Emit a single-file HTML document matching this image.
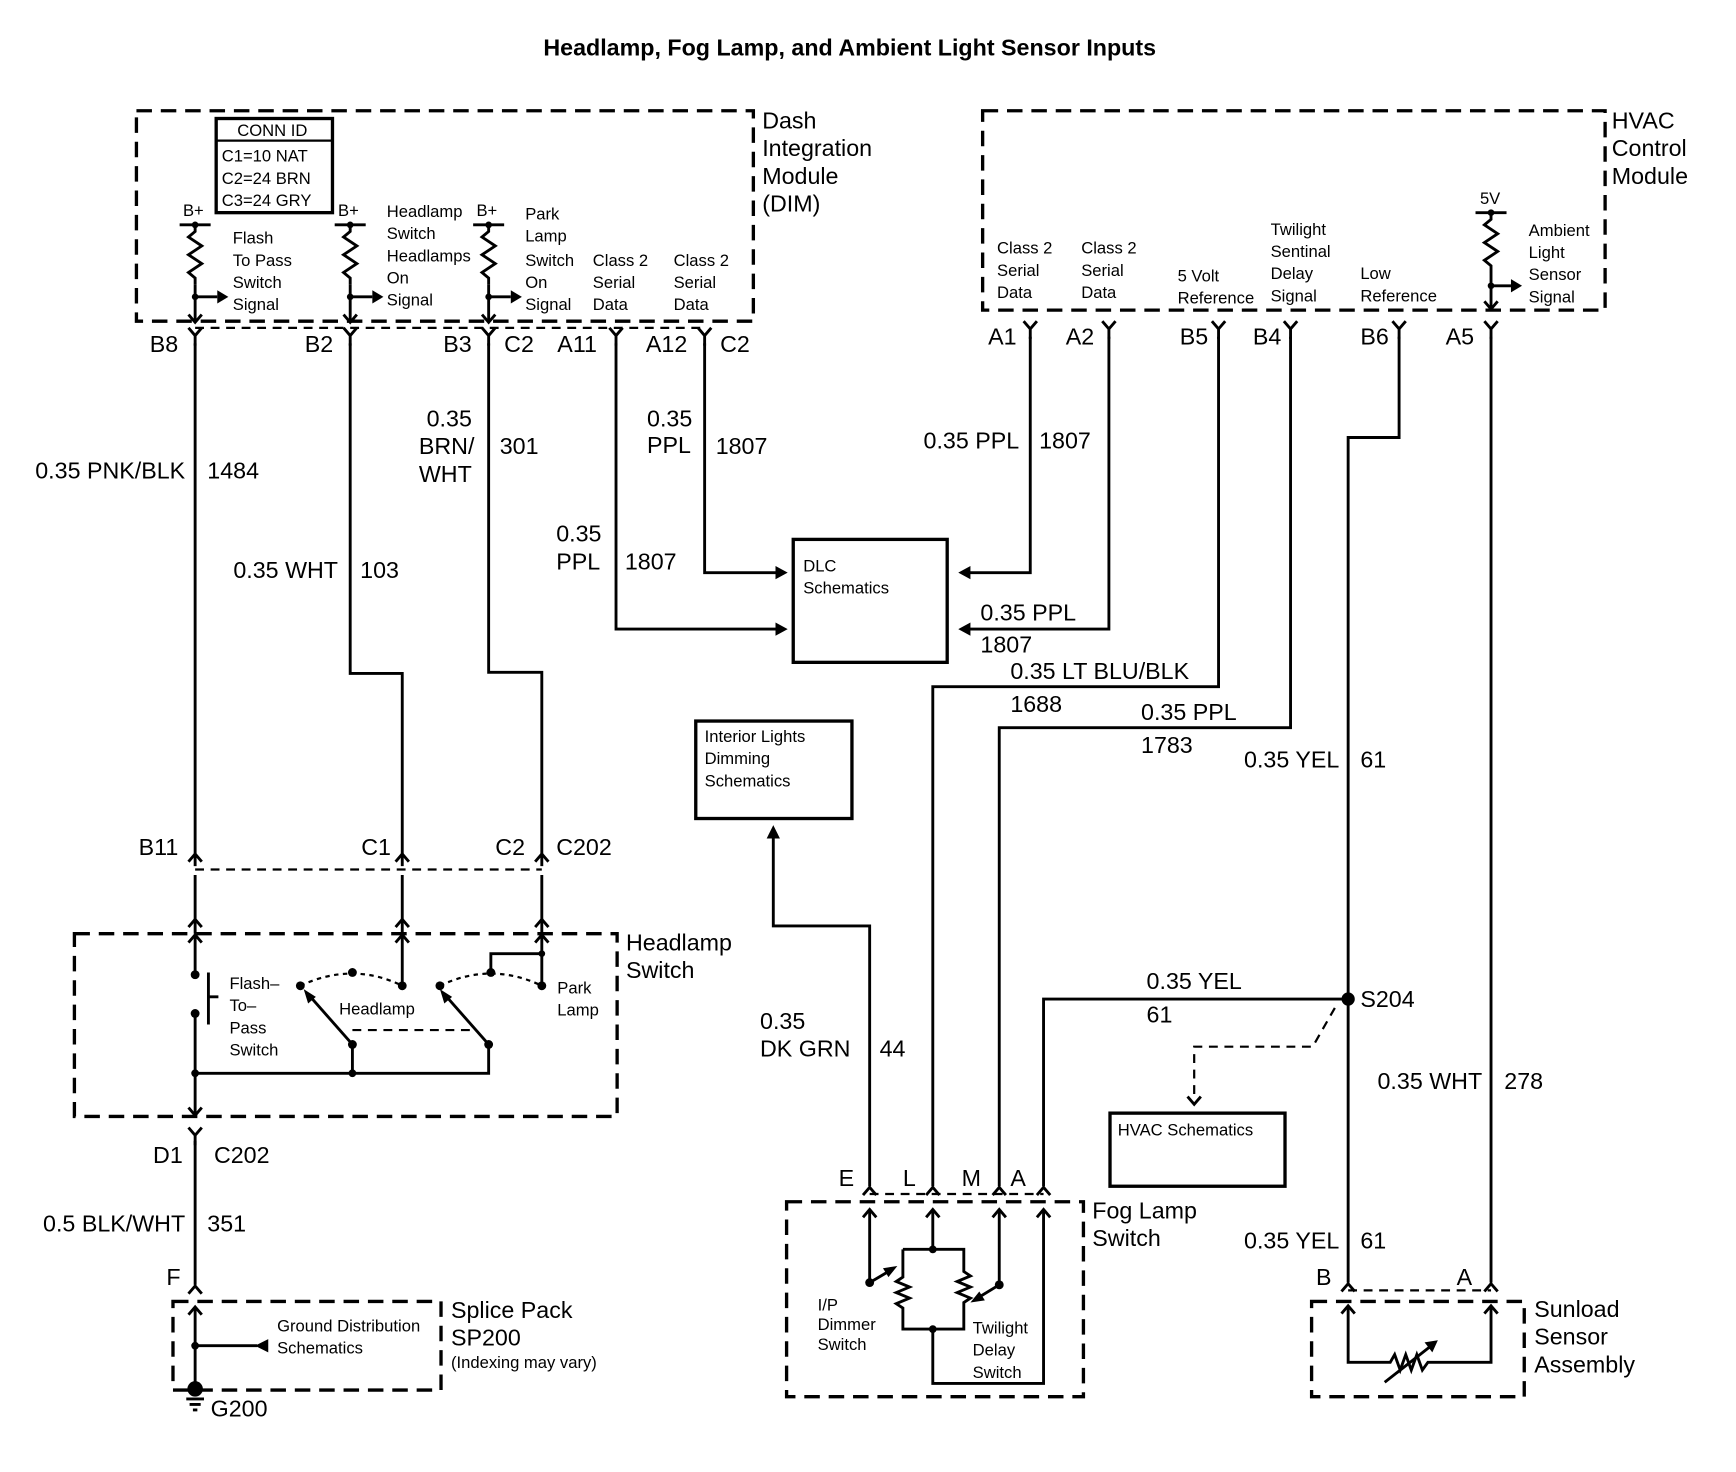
<!DOCTYPE html>
<html><head><meta charset="utf-8"><style>
html,body{margin:0;padding:0;background:#fff;}
svg{display:block;}
text{font-family:"Liberation Sans",Arial,sans-serif;fill:#000;}
.s{font-size:15px;}
.m{font-size:21px;}
.w{fill:none;stroke:#000;stroke-width:2.6;}
.d{fill:none;stroke:#000;stroke-width:3;stroke-dasharray:14 8;}
.dl{fill:none;stroke:#000;stroke-width:2;stroke-dasharray:8 6;}
.dt{fill:none;stroke:#000;stroke-width:2;stroke-dasharray:4 4;}
</style></head><body>
<svg width="1736" height="1472" viewBox="0 0 1567 1329" xmlns="http://www.w3.org/2000/svg">
<defs>
<path id="Y" d="M-6,-8 L0,-1 L6,-8 M0,-1 L0,8" class="w"/>
<path id="U" d="M-6,6 L0,-1 L6,6" class="w"/>
<path id="D" d="M-6,-6 L0,1 L6,-6" class="w"/>
<path id="zz" d="M0,0 l0,6 l-6,5 l12,8 l-12,8 l12,8 l-12,8 l6,5 l0,6" class="w"/>
</defs>
<text x="767" y="50" font-size="21" font-weight="bold" text-anchor="middle">Headlamp, Fog Lamp, and Ambient Light Sensor Inputs</text>

<!-- DIM -->
<rect x="123" y="100" width="557" height="190" class="d"/>
<text class="m" x="688" y="116">Dash</text><text class="m" x="688" y="141">Integration</text><text class="m" x="688" y="166">Module</text><text class="m" x="688" y="191">(DIM)</text>
<rect x="195" y="107" width="105" height="85" fill="none" stroke="#000" stroke-width="3"/>
<line x1="195" y1="127" x2="300" y2="127" stroke="#000" stroke-width="2"/>
<text class="s" x="214" y="123">CONN ID</text><text class="s" x="200" y="146">C1=10 NAT</text><text class="s" x="200" y="166">C2=24 BRN</text><text class="s" x="200" y="186">C3=24 GRY</text>
<g>
<text class="s" x="165" y="195">B+</text>
<line x1="162" y1="203" x2="190" y2="203" class="w"/><circle cx="176" cy="203" r="3"/>
<use href="#zz" x="176" y="203"/><line x1="176" y1="257" x2="176" y2="290" class="w"/>
<circle cx="176" cy="268" r="3"/><line x1="176" y1="268" x2="196" y2="268" class="w"/><path d="M196,262 L206,268 L196,274Z"/>
<use href="#D" x="176" y="290"/>
</g>
<g>
<text class="s" x="305" y="195">B+</text>
<line x1="302" y1="203" x2="330" y2="203" class="w"/><circle cx="316" cy="203" r="3"/>
<use href="#zz" x="316" y="203"/><line x1="316" y1="257" x2="316" y2="290" class="w"/>
<circle cx="316" cy="268" r="3"/><line x1="316" y1="268" x2="336" y2="268" class="w"/><path d="M336,262 L346,268 L336,274Z"/>
<use href="#D" x="316" y="290"/>
</g>
<g>
<text class="s" x="430" y="195">B+</text>
<line x1="427" y1="203" x2="455" y2="203" class="w"/><circle cx="441" cy="203" r="3"/>
<use href="#zz" x="441" y="203"/><line x1="441" y1="257" x2="441" y2="290" class="w"/>
<circle cx="441" cy="268" r="3"/><line x1="441" y1="268" x2="461" y2="268" class="w"/><path d="M461,262 L471,268 L461,274Z"/>
<use href="#D" x="441" y="290"/>
</g>
<text class="s" x="210" y="220">Flash</text><text class="s" x="210" y="240">To Pass</text><text class="s" x="210" y="260">Switch</text><text class="s" x="210" y="280">Signal</text>
<text class="s" x="349" y="196">Headlamp</text><text class="s" x="349" y="216">Switch</text><text class="s" x="349" y="236">Headlamps</text><text class="s" x="349" y="256">On</text><text class="s" x="349" y="276">Signal</text>
<text class="s" x="474" y="198">Park</text><text class="s" x="474" y="218">Lamp</text><text class="s" x="474" y="240">Switch</text><text class="s" x="474" y="260">On</text><text class="s" x="474" y="280">Signal</text>
<text class="s" x="535" y="240">Class 2</text><text class="s" x="535" y="260">Serial</text><text class="s" x="535" y="280">Data</text>
<text class="s" x="608" y="240">Class 2</text><text class="s" x="608" y="260">Serial</text><text class="s" x="608" y="280">Data</text>
<line x1="176" y1="296" x2="636" y2="296" class="dl"/>
<use href="#Y" x="176" y="304"/><use href="#Y" x="316" y="304"/><use href="#Y" x="441" y="304"/><use href="#Y" x="556" y="304"/><use href="#Y" x="636" y="304"/>
<text class="m" x="135" y="318">B8</text><text class="m" x="275" y="318">B2</text><text class="m" x="400" y="318">B3</text><text class="m" x="455" y="318">C2</text><text class="m" x="503" y="318">A11</text><text class="m" x="583" y="318">A12</text><text class="m" x="650" y="318">C2</text>

<!-- DIM wires -->
<path class="w" d="M176,310 V771"/>
<path class="w" d="M316,310 V608 H363 V771"/>
<path class="w" d="M441,310 V607 H489 V771"/>
<path class="w" d="M556,310 V568 H702"/><path d="M700,562 L711,568 L700,574Z"/>
<path class="w" d="M636,310 V517 H702"/><path d="M700,511 L711,517 L700,523Z"/>
<text class="m" x="167" y="432" text-anchor="end">0.35 PNK/BLK</text><text class="m" x="187" y="432">1484</text>
<text class="m" x="305" y="522" text-anchor="end">0.35 WHT</text><text class="m" x="325" y="522">103</text>
<text class="m" x="385" y="385">0.35</text><text class="m" x="378" y="410">BRN/</text><text class="m" x="378" y="435">WHT</text><text class="m" x="451" y="410">301</text>
<text class="m" x="584" y="385">0.35</text><text class="m" x="584" y="409">PPL</text><text class="m" x="646" y="410">1807</text>
<text class="m" x="502" y="489">0.35</text><text class="m" x="502" y="514">PPL</text><text class="m" x="564" y="514">1807</text>

<rect x="716" y="487" width="139" height="111" fill="none" stroke="#000" stroke-width="3"/>
<text class="s" x="725" y="516">DLC</text><text class="s" x="725" y="536">Schematics</text>

<!-- HVAC -->
<rect x="887" y="100" width="562" height="180" class="d"/>
<text class="m" x="1455" y="116">HVAC</text><text class="m" x="1455" y="141">Control</text><text class="m" x="1455" y="166">Module</text>
<text class="s" x="900" y="229">Class 2</text><text class="s" x="900" y="249">Serial</text><text class="s" x="900" y="269">Data</text>
<text class="s" x="976" y="229">Class 2</text><text class="s" x="976" y="249">Serial</text><text class="s" x="976" y="269">Data</text>
<text class="s" x="1063" y="254">5 Volt</text><text class="s" x="1063" y="274">Reference</text>
<text class="s" x="1147" y="212">Twilight</text><text class="s" x="1147" y="232">Sentinal</text><text class="s" x="1147" y="252">Delay</text><text class="s" x="1147" y="272">Signal</text>
<text class="s" x="1228" y="252">Low</text><text class="s" x="1228" y="272">Reference</text>
<text class="s" x="1336" y="184">5V</text>
<line x1="1332" y1="192" x2="1360" y2="192" class="w"/><circle cx="1346" cy="192" r="3"/>
<use href="#zz" x="1346" y="192"/><line x1="1346" y1="246" x2="1346" y2="278" class="w"/>
<circle cx="1346" cy="258" r="3"/><line x1="1346" y1="258" x2="1364" y2="258" class="w"/><path d="M1364,252 L1374,258 L1364,264Z"/>
<use href="#D" x="1346" y="278"/>
<text class="s" x="1380" y="213">Ambient</text><text class="s" x="1380" y="233">Light</text><text class="s" x="1380" y="253">Sensor</text><text class="s" x="1380" y="273">Signal</text>
<use href="#Y" x="930" y="298"/><use href="#Y" x="1001" y="298"/><use href="#Y" x="1100" y="298"/><use href="#Y" x="1165" y="298"/><use href="#Y" x="1263" y="298"/><use href="#Y" x="1346" y="298"/>
<text class="m" x="892" y="311">A1</text><text class="m" x="962" y="311">A2</text><text class="m" x="1065" y="311">B5</text><text class="m" x="1131" y="311">B4</text><text class="m" x="1228" y="311">B6</text><text class="m" x="1305" y="311">A5</text>

<path class="w" d="M930,304 V517 H874"/><path d="M876,511 L865,517 L876,523Z"/>
<path class="w" d="M1001,304 V568 H874"/><path d="M876,562 L865,568 L876,574Z"/>
<text class="m" x="920" y="405" text-anchor="end">0.35 PPL</text><text class="m" x="938" y="405">1807</text>
<text class="m" x="885" y="560">0.35 PPL</text><text class="m" x="885" y="589">1807</text>
<path class="w" d="M1100,304 V620 H842 V1071"/>
<path class="w" d="M1165,304 V657 H902 V1071"/>
<text class="m" x="912" y="613">0.35 LT BLU/BLK</text><text class="m" x="912" y="643">1688</text>
<text class="m" x="1030" y="650">0.35 PPL</text><text class="m" x="1030" y="680">1783</text>
<path class="w" d="M1263,304 V395 H1217 V1158"/>
<text class="m" x="1209" y="693" text-anchor="end">0.35 YEL</text><text class="m" x="1228" y="693">61</text>
<circle cx="1217" cy="902" r="6"/>
<path class="w" d="M1217,902 H942 V1071"/>
<text class="m" x="1035" y="893">0.35 YEL</text><text class="m" x="1035" y="923">61</text>
<text class="m" x="1228" y="909">S204</text>
<path class="dl" d="M1205,910 L1185,945 H1078 V990"/><path class="w" d="M1072,990 L1078,997 L1084,990"/>
<rect x="1002" y="1005" width="158" height="66" fill="none" stroke="#000" stroke-width="3"/>
<text class="s" x="1009" y="1025">HVAC Schematics</text>
<path class="w" d="M1346,304 V1158"/>
<text class="m" x="1338" y="983" text-anchor="end">0.35 WHT</text><text class="m" x="1358" y="983">278</text>
<text class="m" x="1209" y="1127" text-anchor="end">0.35 YEL</text><text class="m" x="1228" y="1127">61</text>

<!-- Sunload -->
<line x1="1217" y1="1165" x2="1346" y2="1165" class="dl"/>
<use href="#U" x="1217" y="1160"/><use href="#U" x="1346" y="1160"/>
<text class="m" x="1188" y="1160">B</text><text class="m" x="1315" y="1160">A</text>
<rect x="1184" y="1175" width="192" height="86" class="d"/>
<path class="w" d="M1217,1180 V1230 H1255 l4,-7 l5,14 l5,-14 l5,14 l5,-14 l5,14 l5,-7 H1346 V1180"/>
<use href="#U" x="1217" y="1180"/><use href="#U" x="1346" y="1180"/>
<line x1="1250" y1="1248" x2="1292" y2="1215" class="w"/><path d="M1298,1210 L1286,1212 L1293,1221Z"/>
<text class="m" x="1385" y="1189">Sunload</text><text class="m" x="1385" y="1214">Sensor</text><text class="m" x="1385" y="1239">Assembly</text>

<!-- Interior lights -->
<rect x="628" y="651" width="141" height="88" fill="none" stroke="#000" stroke-width="3"/>
<text class="s" x="636" y="670">Interior Lights</text><text class="s" x="636" y="690">Dimming</text><text class="s" x="636" y="710">Schematics</text>
<path class="w" d="M698,755 V836 H785 V1071"/><path d="M692,757 L698,745 L704,757Z"/>
<text class="m" x="686" y="929">0.35</text><text class="m" x="686" y="954">DK GRN</text><text class="m" x="794" y="954">44</text>

<!-- Fog lamp switch -->
<line x1="785" y1="1078" x2="942" y2="1078" class="dl"/>
<use href="#U" x="785" y="1073"/><use href="#U" x="842" y="1073"/><use href="#U" x="902" y="1073"/><use href="#U" x="942" y="1073"/>
<text class="m" x="757" y="1071">E</text><text class="m" x="815" y="1071">L</text><text class="m" x="868" y="1071">M</text><text class="m" x="912" y="1071">A</text>
<rect x="710" y="1085" width="268" height="176" class="d"/>
<text class="m" x="986" y="1100">Fog Lamp</text><text class="m" x="986" y="1125">Switch</text>
<use href="#U" x="785" y="1093"/><use href="#U" x="842" y="1093"/><use href="#U" x="902" y="1093"/><use href="#U" x="942" y="1093"/>
<path class="w" d="M785,1093 V1158"/>
<path class="w" d="M842,1093 V1128 M815,1128 H870 V1148 l6,4 l-12,5 l12,5 l-12,5 l12,5 l-6,4 V1200 H815 V1181 l-6,-4 l12,-5 l-12,-5 l12,-5 l-12,-5 l6,-4 V1128 M842,1200 V1249 H942 V1093 M902,1093 V1160"/>
<circle cx="842" cy="1128" r="3.5"/><circle cx="842" cy="1200" r="3.5"/>
<circle cx="785" cy="1158" r="4"/><circle cx="902" cy="1160" r="4"/>
<line x1="785" y1="1158" x2="802" y2="1148" class="w"/><path d="M810,1143 L797,1145 L802,1153Z"/>
<line x1="902" y1="1160" x2="884" y2="1171" class="w"/><path d="M876,1176 L884,1166 L889,1174Z"/>
<text class="s" x="738" y="1183">I/P</text><text class="s" x="738" y="1201">Dimmer</text><text class="s" x="738" y="1219">Switch</text>
<text class="s" x="878" y="1204">Twilight</text><text class="s" x="878" y="1224">Delay</text><text class="s" x="878" y="1244">Switch</text>

<!-- Headlamp switch -->
<line x1="176" y1="785" x2="489" y2="785" class="dl"/>
<use href="#U" x="176" y="772"/><use href="#U" x="363" y="772"/><use href="#U" x="489" y="772"/>
<text class="m" x="125" y="772">B11</text><text class="m" x="326" y="772">C1</text><text class="m" x="447" y="772">C2</text><text class="m" x="502" y="772">C202</text>
<path class="w" d="M176,772 V782 M363,772 V782 M489,772 V782 M176,790 V843 M363,790 V843 M489,790 V843"/>
<use href="#U" x="176" y="831"/><use href="#U" x="363" y="831"/><use href="#U" x="489" y="831"/>
<rect x="67" y="843" width="490" height="165" class="d"/>
<text class="m" x="565" y="858">Headlamp</text><text class="m" x="565" y="883">Switch</text>
<use href="#U" x="176" y="845"/><use href="#U" x="363" y="845"/><use href="#U" x="489" y="845"/>
<path class="w" d="M176,845 V880 M176,915 V1006 M188,878 V925 M188,900 H197 M176,969 H441 V943 M318,969 V943 M363,845 V890 M489,845 V890 M443,878 V861 H489"/>
<circle cx="176" cy="880" r="4"/><circle cx="176" cy="915" r="4"/><circle cx="176" cy="969" r="3.5"/><circle cx="318" cy="969" r="3.5"/>
<circle cx="318" cy="943" r="4"/><circle cx="271" cy="890" r="4"/><circle cx="318" cy="878" r="4"/><circle cx="363" cy="890" r="4"/>
<circle cx="441" cy="943" r="4"/><circle cx="397" cy="890" r="4"/><circle cx="443" cy="878" r="4"/><circle cx="489" cy="890" r="4"/><circle cx="489" cy="861" r="3"/>
<line x1="318" y1="943" x2="281" y2="901" class="w"/><path d="M274,893 L278,906 L285,900Z"/>
<line x1="441" y1="943" x2="404" y2="901" class="w"/><path d="M397,893 L401,906 L408,900Z"/>
<path class="dt" d="M271,890 Q318,868 363,890"/><path class="dt" d="M397,890 Q443,868 489,890"/>
<line x1="318" y1="930" x2="430" y2="930" class="dl"/>
<text class="s" x="207" y="893">Flash–</text><text class="s" x="207" y="913">To–</text><text class="s" x="207" y="933">Pass</text><text class="s" x="207" y="953">Switch</text>
<text class="s" x="306" y="916">Headlamp</text>
<text class="s" x="503" y="897">Park</text><text class="s" x="503" y="917">Lamp</text>
<use href="#D" x="176" y="1006"/>

<use href="#Y" x="176" y="1026"/>
<text class="m" x="138" y="1050">D1</text><text class="m" x="193" y="1050">C202</text>
<path class="w" d="M176,1030 V1160"/>
<text class="m" x="167" y="1112" text-anchor="end">0.5 BLK/WHT</text><text class="m" x="187" y="1112">351</text>
<use href="#U" x="176" y="1162"/>
<text class="m" x="150" y="1160">F</text>
<rect x="156" y="1175" width="242" height="80" class="d"/>
<use href="#U" x="176" y="1181"/>
<path class="w" d="M176,1181 V1252 M176,1215 H232"/>
<circle cx="176" cy="1215" r="3.5"/><path d="M242,1209 L230,1215 L242,1221Z"/>
<text class="s" x="250" y="1202">Ground Distribution</text><text class="s" x="250" y="1222">Schematics</text>
<text class="m" x="407" y="1190">Splice Pack</text><text class="m" x="407" y="1215">SP200</text><text class="s" x="407" y="1235">(Indexing may vary)</text>
<circle cx="176" cy="1254" r="7"/>
<path class="w" d="M168,1263 H184 M171,1268 H181 M174,1273 H178" stroke-width="2"/>
<text class="m" x="190" y="1279">G200</text>
</svg>
</body></html>
